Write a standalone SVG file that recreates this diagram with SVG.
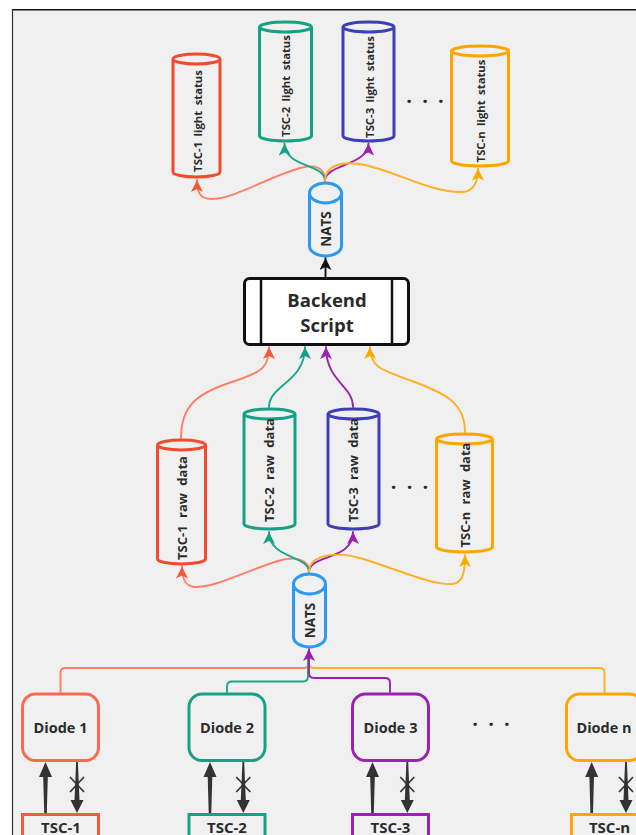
<svg xmlns="http://www.w3.org/2000/svg" width="636" height="835" viewBox="0 0 636 835">
<defs>
<style>
.t{font-family:"Open Sans","Noto Sans","Liberation Sans",sans-serif;font-weight:700;fill:#2b2b2b}
.cyl{fill:#f0f0f0;stroke-width:3}
.c{fill:none;stroke-width:1.9;stroke-linecap:round;stroke-linejoin:round}
.box{fill:#f0f0f0;stroke-width:3}
.dk{fill:#333}
.x{stroke:#333;stroke-width:1.7;fill:none}
</style>
<marker id="mr" viewBox="0 0 10 10" refX="10" refY="5" markerWidth="12" markerHeight="12" markerUnits="userSpaceOnUse" orient="auto"><path d="M0,0 L10,5 L0,10 L2.5,5 Z" fill="#f4593c"/></marker>
<marker id="mg" viewBox="0 0 10 10" refX="10" refY="5" markerWidth="12" markerHeight="12" markerUnits="userSpaceOnUse" orient="auto"><path d="M0,0 L10,5 L0,10 L2.5,5 Z" fill="#17a085"/></marker>
<marker id="mp" viewBox="0 0 10 10" refX="10" refY="5" markerWidth="12" markerHeight="12" markerUnits="userSpaceOnUse" orient="auto"><path d="M0,0 L10,5 L0,10 L2.5,5 Z" fill="#9b22b0"/></marker>
<marker id="mo" viewBox="0 0 10 10" refX="10" refY="5" markerWidth="12" markerHeight="12" markerUnits="userSpaceOnUse" orient="auto"><path d="M0,0 L10,5 L0,10 L2.5,5 Z" fill="#ffa800"/></marker>
<marker id="mk" viewBox="0 0 10 10" refX="10" refY="5" markerWidth="12" markerHeight="12" markerUnits="userSpaceOnUse" orient="auto"><path d="M0,0 L10,5 L0,10 L2.5,5 Z" fill="#111"/></marker>
<path id="up" d="M-1.3,51 L1.3,51 L2.3,15 L6.5,15 L0,0 L-6.5,15 L-2.3,15 Z"/>
<g id="down"><path class="dk" d="M-0.9,0 L0.9,0 L2.5,38 L6.5,38 L0,51 L-6.5,38 L-2.5,38 Z"/><path class="x" d="M-7,15 L7,30 M7,15 L-7,30"/></g>
</defs>

<rect x="0" y="0" width="636" height="835" fill="#ffffff"/>
<rect x="12.5" y="9.75" width="640" height="840" fill="#f0f0f0"/>
<line x1="12" y1="9.75" x2="636" y2="9.75" stroke="#111" stroke-width="1.6"/>
<line x1="12.5" y1="9" x2="12.5" y2="835" stroke="#333" stroke-width="1.2"/>

<g id="connectors">
<path class="c" stroke="#ff7f66" marker-end="url(#mr)" d="M325,181 C325,167 315,164 300,168 C270,176 235,199 211,199 C200,199 197,192 197,180"/>
<path class="c" stroke="#1aa88a" marker-end="url(#mg)" d="M325,181 C325,163 285,168 284.5,143.5"/>
<path class="c" stroke="#9b22b0" marker-end="url(#mp)" d="M325,181 C325,164 368,166 368.5,143.5"/>
<path class="c" stroke="#ffb020" marker-end="url(#mo)" d="M325,181 C325,166 340,160 365,165 C400,173 432,193 463,192 C473,191 478,183 478,168.5"/>
<path class="c" stroke="#111" stroke-width="1.9" marker-end="url(#mk)" d="M325.5,278 V258"/>
<path class="c" stroke="#ff7f66" marker-end="url(#mr)" d="M181,438 C181,405 198,393 232,382 C262,372 269,368 269,347"/>
<path class="c" stroke="#1aa88a" marker-end="url(#mg)" d="M269,407 C269,385 305,382 305,347"/>
<path class="c" stroke="#9b22b0" marker-end="url(#mp)" d="M353,407 C353,385 326,382 326,347"/>
<path class="c" stroke="#ffb020" marker-end="url(#mo)" d="M465,432 C465,403 445,393 412,381 C381,370 370,367 370,347"/>
<path class="c" stroke="#ff7f66" marker-end="url(#mr)" d="M309,572 C309,559 295,556 278,561 C245,571 215,588 194,587 C185,586 182,579 182,566.5"/>
<path class="c" stroke="#1aa88a" marker-end="url(#mg)" d="M309,572 C309,555 269,559 269,532"/>
<path class="c" stroke="#9b22b0" marker-end="url(#mp)" d="M309,572 C309,554 353,561 353,532"/>
<path class="c" stroke="#ffb020" marker-end="url(#mo)" d="M309,572 C309,557 330,550 360,558 C400,570 430,585 452,584 C462,583 465,575 465,555"/>
<path class="c" stroke="#ff7f66" d="M60.5,692 V673 Q60.5,668 65.5,668 H304 Q309,668 309,663 V650"/>
<path class="c" stroke="#ffb020" d="M604.5,692 V673 Q604.5,668 599.5,668 H314 Q309,668 309,663 V650"/>
<path class="c" stroke="#1aa88a" d="M227,692 V686.5 Q227,681.5 232,681.5 H303 Q308,681.5 308,676.5 V652"/>
<path class="c" stroke="#9b22b0" marker-end="url(#mp)" d="M390,692 V683 Q390,678 385,678 H314 Q309,678 309,673 V649"/>
<use href="#up" class="dk" x="45.5" y="762"/>
<use href="#down" x="77" y="762"/>
<use href="#up" class="dk" x="210" y="762"/>
<use href="#down" x="243.3" y="762"/>
<use href="#up" class="dk" x="372.5" y="762"/>
<use href="#down" x="407.3" y="762"/>
<use href="#up" class="dk" x="591.7" y="762"/>
<use href="#down" x="626" y="762"/>
</g>

<g id="ls1">
<path class="cyl" stroke="#f24a2c" d="M173,59 A23.5,5 0 0 1 220,59 V172 A23.5,5 0 0 1 173,172 Z M173,59 A23.5,5 0 0 0 220,59"/>
<text class="t" font-size="11.3" word-spacing="2.5" text-anchor="middle" transform="translate(201.5,121) rotate(-90)">TSC-1 light status</text>
</g>
<g id="ls2">
<path class="cyl" stroke="#16a085" d="M259.5,27 A26,5 0 0 1 311.5,27 V136 A26,5 0 0 1 259.5,136 Z M259.5,27 A26,5 0 0 0 311.5,27"/>
<text class="t" font-size="11.3" word-spacing="2.5" text-anchor="middle" transform="translate(290,86) rotate(-90)">TSC-2 light status</text>
</g>
<g id="ls3">
<path class="cyl" stroke="#3f3fb5" d="M343,27 A25.5,5 0 0 1 394,27 V136 A25.5,5 0 0 1 343,136 Z M343,27 A25.5,5 0 0 0 394,27"/>
<text class="t" font-size="11.3" word-spacing="2.5" text-anchor="middle" transform="translate(373.5,87) rotate(-90)">TSC-3 light status</text>
</g>
<g id="lsn">
<path class="cyl" stroke="#ffa500" d="M451.5,51 A28.5,5 0 0 1 508.5,51 V161 A28.5,5 0 0 1 451.5,161 Z M451.5,51 A28.5,5 0 0 0 508.5,51"/>
<text class="t" font-size="11.3" word-spacing="2.5" text-anchor="middle" transform="translate(485,111) rotate(-90)">TSC-n light status</text>
</g>
<text class="t" font-size="20" text-anchor="middle" word-spacing="5" x="425" y="103">. . .</text>

<g id="nats-top">
<path class="cyl" stroke="#2b9af3" d="M309.5,193 A16,10 0 0 1 341.5,193 V246 A16,10 0 0 1 309.5,246 Z M309.5,193 A16,10 0 0 0 341.5,193"/>
<text class="t" font-size="13.5" text-anchor="middle" transform="translate(330.5,229) rotate(-90)">NATS</text>
</g>

<g id="backend">
<rect x="244.5" y="278.5" width="164" height="66" rx="5" fill="#ffffff" stroke="#111" stroke-width="3"/>
<line x1="261" y1="278.5" x2="261" y2="344.5" stroke="#111" stroke-width="2.5"/>
<line x1="392" y1="278.5" x2="392" y2="344.5" stroke="#111" stroke-width="2.5"/>
<text class="t" font-size="18.5" text-anchor="middle" x="327" y="306.5">Backend</text>
<text class="t" font-size="18.5" text-anchor="middle" x="327" y="331.5">Script</text>
</g>

<g id="rd1">
<path class="cyl" stroke="#f24a2c" d="M157.5,445 A24,5 0 0 1 205.5,445 V559 A24,5 0 0 1 157.5,559 Z M157.5,445 A24,5 0 0 0 205.5,445"/>
<text class="t" font-size="13" word-spacing="4" text-anchor="middle" transform="translate(186.5,508) rotate(-90)">TSC-1 raw data</text>
</g>
<g id="rd2">
<path class="cyl" stroke="#16a085" d="M244,414 A25.5,5 0 0 1 295,414 V524 A25.5,5 0 0 1 244,524 Z M244,414 A25.5,5 0 0 0 295,414"/>
<text class="t" font-size="13" word-spacing="4" text-anchor="middle" transform="translate(274,470) rotate(-90)">TSC-2 raw data</text>
</g>
<g id="rd3">
<path class="cyl" stroke="#3f3fb5" d="M328,414 A25.5,5 0 0 1 379,414 V524 A25.5,5 0 0 1 328,524 Z M328,414 A25.5,5 0 0 0 379,414"/>
<text class="t" font-size="13" word-spacing="4" text-anchor="middle" transform="translate(358,470) rotate(-90)">TSC-3 raw data</text>
</g>
<g id="rdn">
<path class="cyl" stroke="#ffa500" d="M436.5,439 A28,5 0 0 1 492.5,439 V547 A28,5 0 0 1 436.5,547 Z M436.5,439 A28,5 0 0 0 492.5,439"/>
<text class="t" font-size="13" word-spacing="4" text-anchor="middle" transform="translate(469.5,495) rotate(-90)">TSC-n raw data</text>
</g>
<text class="t" font-size="20" text-anchor="middle" word-spacing="5" x="409.5" y="489">. . .</text>

<g id="nats-bottom">
<path class="cyl" stroke="#2b9af3" d="M293.5,584 A16,10 0 0 1 325.5,584 V637 A16,10 0 0 1 293.5,637 Z M293.5,584 A16,10 0 0 0 325.5,584"/>
<text class="t" font-size="13.5" text-anchor="middle" transform="translate(314.5,620.5) rotate(-90)">NATS</text>
</g>

<g id="diode1">
<rect class="box" x="22.5" y="694" width="76" height="66.5" rx="13" stroke="#fb6a50"/>
<text class="t" font-size="14.5" text-anchor="middle" x="60.5" y="733">Diode 1</text>
</g>
<g id="diode2">
<rect class="box" x="189" y="694" width="76" height="66.5" rx="13" stroke="#16a085"/>
<text class="t" font-size="14.5" text-anchor="middle" x="227" y="733">Diode 2</text>
</g>
<g id="diode3">
<rect class="box" x="352.5" y="694" width="76" height="66.5" rx="13" stroke="#9b22b0"/>
<text class="t" font-size="14.5" text-anchor="middle" x="390.5" y="733">Diode 3</text>
</g>
<g id="dioden">
<rect class="box" x="566.5" y="694" width="76" height="66.5" rx="13" stroke="#ffa500"/>
<text class="t" font-size="14.5" text-anchor="middle" x="604" y="733">Diode n</text>
</g>
<text class="t" font-size="20" text-anchor="middle" word-spacing="5" x="491" y="726">. . .</text>

<g id="tsc1">
<rect class="box" x="22.5" y="814.5" width="76" height="40" stroke="#f45a3e"/>
<text class="t" font-size="15" text-anchor="middle" x="61" y="832.5">TSC-1</text>
</g>
<g id="tsc2">
<rect class="box" x="189" y="814.5" width="76" height="40" stroke="#16a085"/>
<text class="t" font-size="15" text-anchor="middle" x="227" y="832.5">TSC-2</text>
</g>
<g id="tsc3">
<rect class="box" x="352.5" y="814.5" width="76" height="40" stroke="#9b22b0"/>
<text class="t" font-size="15" text-anchor="middle" x="390.5" y="832.5">TSC-3</text>
</g>
<g id="tscn">
<rect class="box" x="571.5" y="814.5" width="76" height="40" stroke="#ffa500"/>
<text class="t" font-size="15" text-anchor="middle" x="609.5" y="832.5">TSC-n</text>
</g>
</svg>
